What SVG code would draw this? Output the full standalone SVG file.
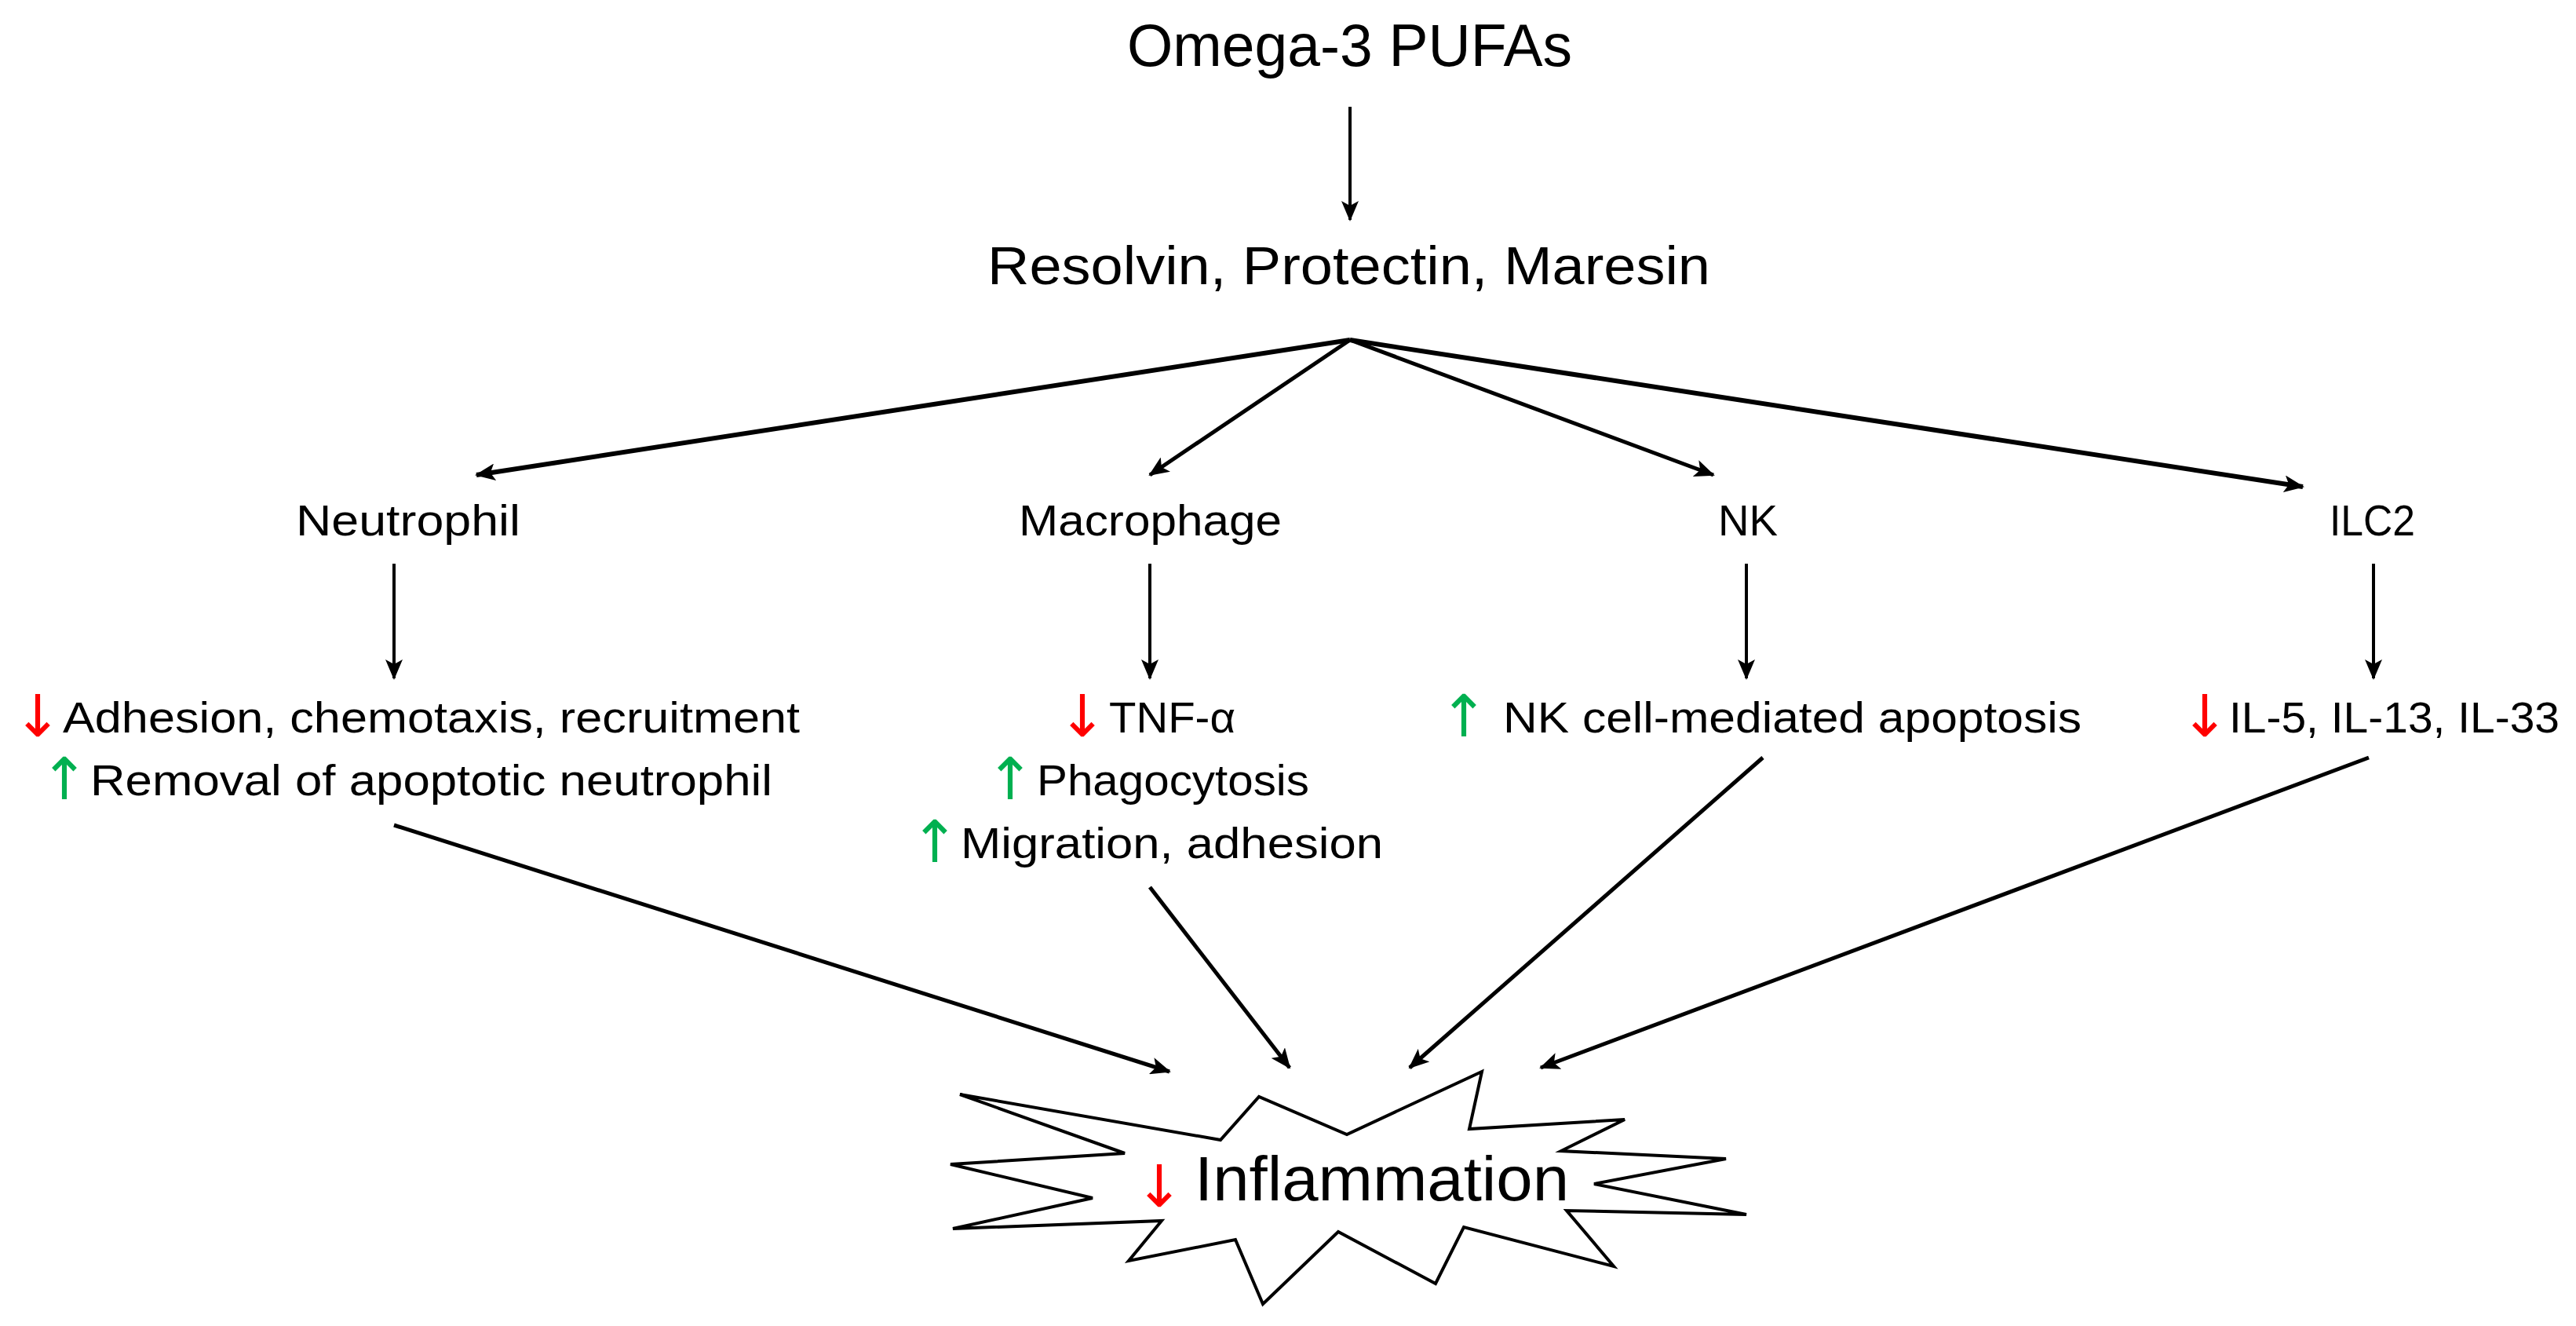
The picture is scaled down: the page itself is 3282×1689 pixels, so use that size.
<svg xmlns="http://www.w3.org/2000/svg" width="3282" height="1689" viewBox="0 0 3282 1689">
<style>
text{font-family:"Liberation Sans","DejaVu Sans",sans-serif;fill:#000}
.t{font-size:56px}
.ar{font-family:"DejaVu Sans",sans-serif;font-size:74px;text-anchor:middle}
.r{fill:#ff0000}.g{fill:#00b050}
.c{fill:none;stroke:#000}
</style>
<defs>
<marker id="ah" markerUnits="userSpaceOnUse" markerWidth="26" markerHeight="22" refX="24" refY="11" orient="auto"><path d="M0,0 L26,11 L0,22 L6,11 Z" fill="#000"/></marker>
</defs>
<rect width="3282" height="1689" fill="#fff"/>
<g id="connectors">
<line class="c" stroke-width="4" x1="1720" y1="136" x2="1720" y2="280" marker-end="url(#ah)"/>
<line class="c" stroke-width="6" x1="1720" y1="433" x2="607" y2="605" marker-end="url(#ah)"/>
<line class="c" stroke-width="5" x1="1720" y1="433" x2="1465" y2="605" marker-end="url(#ah)"/>
<line class="c" stroke-width="5" x1="1720" y1="433" x2="2183" y2="605" marker-end="url(#ah)"/>
<line class="c" stroke-width="6" x1="1720" y1="433" x2="2934" y2="620" marker-end="url(#ah)"/>
<line class="c" stroke-width="4" x1="502" y1="718" x2="502" y2="864" marker-end="url(#ah)"/>
<line class="c" stroke-width="4" x1="1465" y1="718" x2="1465" y2="864" marker-end="url(#ah)"/>
<line class="c" stroke-width="4" x1="2225" y1="718" x2="2225" y2="864" marker-end="url(#ah)"/>
<line class="c" stroke-width="4" x1="3024" y1="718" x2="3024" y2="864" marker-end="url(#ah)"/>
<line class="c" stroke-width="5" x1="502" y1="1051" x2="1490" y2="1365" marker-end="url(#ah)"/>
<line class="c" stroke-width="5" x1="1465" y1="1130" x2="1643" y2="1360" marker-end="url(#ah)"/>
<line class="c" stroke-width="5" x1="2246" y1="965" x2="1796" y2="1360" marker-end="url(#ah)"/>
<line class="c" stroke-width="5" x1="3018" y1="965" x2="1963" y2="1360" marker-end="url(#ah)"/>
</g>
<g id="omega3"><text x="1436" y="84" font-size="76" textLength="567" lengthAdjust="spacingAndGlyphs">Omega-3 PUFAs</text></g>
<g id="mediators"><text x="1258" y="362" font-size="68" textLength="921" lengthAdjust="spacingAndGlyphs">Resolvin, Protectin, Maresin</text></g>
<g id="neutrophil"><text class="t" x="377" y="682" textLength="286" lengthAdjust="spacingAndGlyphs">Neutrophil</text></g>
<g id="macrophage"><text class="t" x="1298" y="682" textLength="335" lengthAdjust="spacingAndGlyphs">Macrophage</text></g>
<g id="nk"><text class="t" x="2189" y="682" textLength="76" lengthAdjust="spacingAndGlyphs">NK</text></g>
<g id="ilc2"><text class="t" x="2968" y="682" textLength="109" lengthAdjust="spacingAndGlyphs">ILC2</text></g>
<g id="neutrophil-effects">
<text class="ar r" x="48" y="938">↓</text><text class="t" x="80" y="933" textLength="939" lengthAdjust="spacingAndGlyphs">Adhesion, chemotaxis, recruitment</text>
<text class="ar g" x="82" y="1018">↑</text><text class="t" x="115" y="1013" textLength="869" lengthAdjust="spacingAndGlyphs">Removal of apoptotic neutrophil</text>
</g>
<g id="macrophage-effects">
<text class="ar r" x="1379" y="938">↓</text><text class="t" x="1413" y="933" textLength="161" lengthAdjust="spacingAndGlyphs">TNF-α</text>
<text class="ar g" x="1287" y="1018">↑</text><text class="t" x="1321" y="1013" textLength="347" lengthAdjust="spacingAndGlyphs">Phagocytosis</text>
<text class="ar g" x="1191" y="1098">↑</text><text class="t" x="1224" y="1093" textLength="538" lengthAdjust="spacingAndGlyphs">Migration, adhesion</text>
</g>
<g id="nk-effects">
<text class="ar g" x="1865" y="938">↑</text><text class="t" x="1915" y="933" textLength="737" lengthAdjust="spacingAndGlyphs">NK cell-mediated apoptosis</text>
</g>
<g id="ilc2-effects">
<text class="ar r" x="2809" y="938">↓</text><text class="t" x="2840" y="933" textLength="421" lengthAdjust="spacingAndGlyphs">IL-5, IL-13, IL-33</text>
</g>
<g id="inflammation">
<polygon points="1223,1394 1555,1452 1604,1397 1716,1445 1888,1365 1872,1438 2070,1426 1989,1466 2199,1476 2031,1508 2225,1547 1996,1542 2056,1613 1865,1563 1829,1635 1705,1569 1609,1661 1574,1579 1438,1606 1480,1555 1214,1565 1392,1526 1211,1483 1433,1469" fill="#fff" stroke="#000" stroke-width="4"/>
<text class="ar r" x="1477" y="1537" font-size="104">↓</text>
<text x="1522" y="1529" font-size="80" textLength="477" lengthAdjust="spacingAndGlyphs">Inflammation</text>
</g>
</svg>
